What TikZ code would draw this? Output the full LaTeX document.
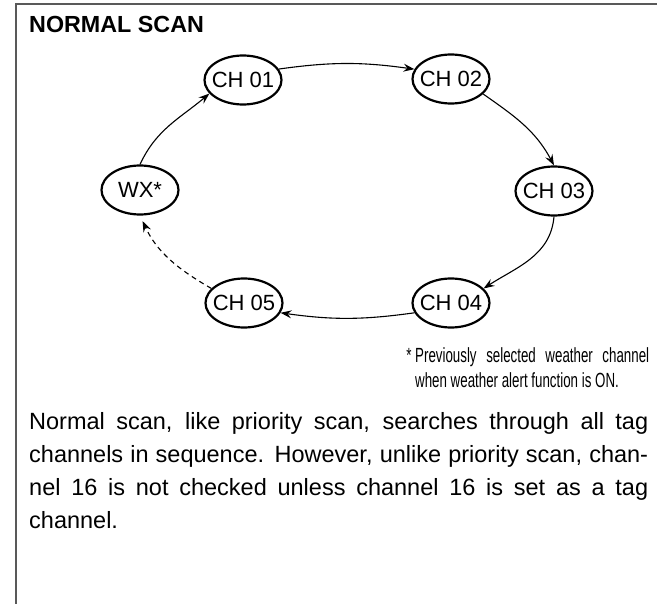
\documentclass[tikz,border=0pt]{standalone}
\usepackage{fontspec}
\setmainfont{Liberation Sans}
\newfontfamily\narrowfont[FakeStretch=0.65]{Liberation Sans}
\usetikzlibrary{shapes.geometric,arrows.meta}
\tolerance=9999
\hbadness=10000
\hyphenpenalty=10000
\begin{document}
\begin{tikzpicture}[x=1pt,y=1pt,
    chan/.style={ellipse,draw,line width=2.2pt,minimum width=77pt,minimum height=49pt,
                 inner sep=0pt,font=\fontsize{22pt}{22pt}\selectfont},
    hop/.style={line width=1.1pt,-{Stealth[length=11pt,width=8pt,inset=4pt]}},
    frame/.style={line width=1.5pt,black!65},
    para/.style={anchor=base west,inner sep=0pt,align=justify}]
    \useasboundingbox (0,0) rectangle (657,-604);
    % \helpgrid
    \draw[frame] (16,-604) -- (16,-4) -- (657,-4);
    \node[para,font=\fontsize{23.3pt}{23pt}\selectfont\bfseries] (title) at (29,-33) {NORMAL SCAN};

    \node[chan] (ch01) at (243,-80)  {\makebox[0pt]{CH 01}};
    \node[chan] (ch02) at (451,-79)  {\makebox[0pt]{CH 02}};
    \node[chan] (ch03) at (554,-191) {\makebox[0pt]{CH 03}};
    \node[chan] (ch04) at (451,-303) {\makebox[0pt]{CH 04}};
    \node[chan] (ch05) at (244,-303) {\makebox[0pt]{CH 05}};
    \node[chan] (wx)   at (140,-190) {\makebox[0pt]{WX*}};

    \draw[hop] (wx.north) to[out=65,in=220] (ch01.202);
    \draw[hop] (ch01.17) to[out=8,in=172] (ch02.165);
    \draw[hop] (ch02.335) to[out=-35,in=118] (ch03.north);
    \draw[hop] (ch03.south) to[out=-95,in=33] (ch04.24);
    \draw[hop] (ch04.195) to[out=188,in=-8] (ch05.345);
    \draw[hop,dash pattern=on 5pt off 4pt,shorten >=6pt] (ch05.156) to[out=150,in=-65] (wx.south);

    \node[para,text width=234pt,font=\narrowfont\fontsize{20.5pt}{25pt}\selectfont] (note) at (415,-363)
        {\llap{*\ }Previously selected weather channel\linebreak
         when weather alert function is ON.};
    \node[para,text width=619pt,font=\fontsize{23.5pt}{33pt}\selectfont] (body) at (29,-430)
        {Normal scan, like priority scan, searches through all tag\linebreak
         channels in sequence. However, unlike priority scan, chan-\linebreak
         nel 16 is not checked unless channel 16 is set as a tag\linebreak
         channel.};
\end{tikzpicture}
\end{document}
